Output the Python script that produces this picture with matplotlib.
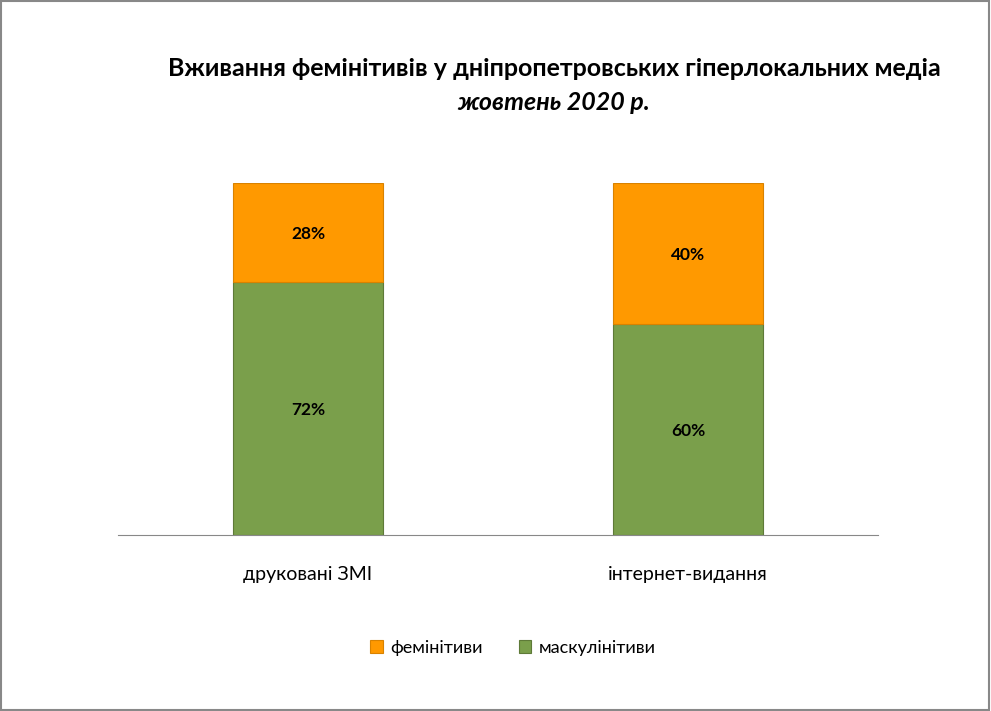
import matplotlib
matplotlib.use("Agg")
import matplotlib.pyplot as plt
from matplotlib.patches import Rectangle

categories = ["друковані ЗМІ", "інтернет-видання"]
masc = [72, 60]
fem = [28, 40]
series_names = ["фемінітиви", "маскулінітиви"]

title1 = "Вживання фемінітивів у дніпропетровських гіперлокальних медіа"
title2 = "жовтень 2020 р."

plt.rcParams['font.family'] = ['Lato', 'DejaVu Sans']

W, H = 991, 711
fig = plt.figure(figsize=(W / 100, H / 100), dpi=100)
fig.patches.append(Rectangle((0.001, 0.001), 0.997, 0.997, transform=fig.transFigure,
                             fill=False, edgecolor="#888888", linewidth=1.5))

ax = fig.add_axes([118 / W, 1 - 535 / H, (878 - 118) / W, (535 - 183) / H])
x = list(range(len(categories)))
green = "#7A9F4B"
orange = "#FF9900"
b1 = ax.bar(x, [m / 100 for m in masc], width=0.395, color=green, edgecolor="#5E7A38", linewidth=0.8,
            label=series_names[1])
b2 = ax.bar(x, [f / 100 for f in fem], bottom=[m / 100 for m in masc], width=0.395, color=orange,
            edgecolor="#D98200", linewidth=0.8, label=series_names[0])
for i in x:
    ax.text(i, masc[i] / 200, f"{masc[i]}%", ha="center", va="center_baseline", fontsize=12.5,
            fontweight="bold")
    ax.text(i, masc[i] / 100 + fem[i] / 200, f"{fem[i]}%", ha="center", va="center_baseline",
            fontsize=12.5, fontweight="bold")
ax.set_xlim(-0.5, 1.5)
ax.set_ylim(0, 1)
for s in ["top", "right", "left"]:
    ax.spines[s].set_visible(False)
ax.spines["bottom"].set_color("#888888")
ax.set_yticks([])
ax.set_xticks(x)
ax.set_xticklabels(categories, fontsize=14)
ax.tick_params(axis="x", length=0, pad=22)

fig.text(554 / W, 1 - 68 / H, title1, ha="center", va="center", fontsize=18, fontweight="bold")
fig.text(554 / W, 1 - 103 / H, title2, ha="center", va="center", fontsize=18, fontweight="bold",
         style="italic")

leg = fig.legend(handles=[b2, b1], labels=series_names, loc="center", bbox_to_anchor=(513 / W, 1 - 648 / H),
                 ncol=2, frameon=False, fontsize=13, handlelength=0.7, handleheight=0.7,
                 columnspacing=2.0, handletextpad=0.4)

fig.savefig("out.png", dpi=100)
